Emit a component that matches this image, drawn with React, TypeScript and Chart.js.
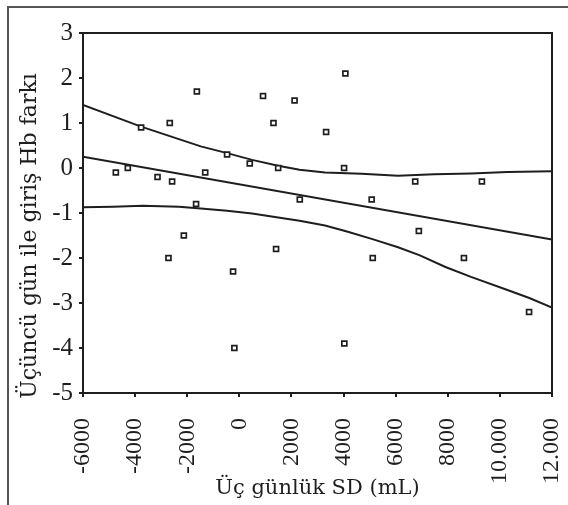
import React, { useEffect, useRef } from "react";
import { Chart, registerables } from "chart.js";

Chart.register(...registerables);

// Scatter points: three-day SD (mL) vs Hb difference
const sdX = [
  -4740, -4280, -3770, -3140, -2670, -2580, -2720, -2130, -1660, -1630, -1310,
  -470, -240, -190, 400, 910, 1310, 1410, 1490, 2120, 2320, 3330, 4070, 4020,
  4030, 5080, 5120, 6750, 6890, 8620, 9310, 11120,
];
const hbY = [
  -0.1, 0.0, 0.9, -0.2, 1.0, -0.3, -2.0, -1.5, -0.8, 1.7, -0.1,
  0.3, -2.3, -4.0, 0.1, 1.6, 1.0, -1.8, 0.0, 1.5, -0.7, 0.8, 2.1, 0.0,
  -3.9, -0.7, -2.0, -0.3, -1.4, -2.0, -0.3, -3.2,
];

// Fit line
const fitX = [-6000, 12000];
const fitY = [0.25, -1.59];

// Upper confidence band
const upperX = [-6000, -3770, -1480, -470, 490, 1490, 2310, 3290, 4690, 6090, 7490, 8890, 10290, 12000];
const upperY = [1.4, 0.92, 0.48, 0.33, 0.18, 0.05, -0.04, -0.1, -0.13, -0.17, -0.14, -0.12, -0.09, -0.07];

// Lower confidence band
const lowerX = [-6000, -4840, -3720, -2320, -1480, -470, 490, 1490, 2310, 3290, 4130, 5110, 6090, 6930, 7910, 8890, 10290, 11130, 12000];
const lowerY = [-0.87, -0.86, -0.84, -0.86, -0.9, -0.95, -1.01, -1.1, -1.17, -1.28, -1.41, -1.58, -1.76, -1.94, -2.2, -2.42, -2.71, -2.89, -3.1];

const xTickLabels = ["-6000", "-4000", "-2000", "0", "2000", "4000", "6000", "8000", "10.000", "12.000"];
const yTitle = "Üçüncü gün ile giriş Hb farkı";
const xTitle = "Üç günlük SD (mL)";

const INK = "#1e1e1e";
const TICK_FONT = "'Liberation Serif', serif";
const TITLE_FONT = "'DejaVu Serif', serif";

const zip = (xs: number[], ys: number[]) => xs.map((x, i) => ({ x, y: ys[i] }));

const decorPlugin = {
  id: "decor",
  beforeDraw(chart: any) {
    const { ctx } = chart;
    ctx.save();
    ctx.fillStyle = "#ffffff";
    ctx.fillRect(0, 0, chart.width, chart.height);
    ctx.strokeStyle = "#555555";
    ctx.lineWidth = 2;
    ctx.beginPath();
    ctx.moveTo(8, chart.height);
    ctx.lineTo(8, 7);
    ctx.lineTo(chart.width, 7);
    ctx.stroke();
    ctx.restore();
  },
  afterDraw(chart: any) {
    const { ctx, chartArea } = chart;
    ctx.save();
    ctx.strokeStyle = INK;
    ctx.lineWidth = 2;
    ctx.beginPath();
    ctx.moveTo(chartArea.left, chartArea.top);
    ctx.lineTo(chartArea.right, chartArea.top);
    ctx.lineTo(chartArea.right, chartArea.bottom);
    ctx.stroke();

    ctx.fillStyle = INK;
    ctx.font = `21px ${TITLE_FONT}`;
    ctx.textAlign = "center";
    ctx.textBaseline = "middle";
    ctx.fillText(xTitle, (chartArea.left + chartArea.right) / 2, 489);
    ctx.font = `22px ${TITLE_FONT}`;
    ctx.translate(30, 236);
    ctx.rotate(-Math.PI / 2);
    ctx.fillText(yTitle, 0, 0);
    ctx.restore();
  },
};

export default function App() {
  const ref = useRef<HTMLCanvasElement>(null);
  useEffect(() => {
    document.body.style.margin = "0";
    const canvas = ref.current!;
    const chart = new Chart(canvas, {
      type: "scatter",
      data: {
        datasets: [
          {
            data: zip(sdX, hbY),
            showLine: false,
            pointStyle: "rect",
            pointRadius: 3.5,
            pointBorderWidth: 1.7,
            pointBackgroundColor: "#ffffff",
            pointBorderColor: INK,
            order: 0,
          },
          {
            data: zip(fitX, fitY),
            showLine: true,
            pointRadius: 0,
            borderColor: INK,
            borderWidth: 2,
            order: 1,
          },
          {
            data: zip(upperX, upperY),
            showLine: true,
            pointRadius: 0,
            borderColor: INK,
            borderWidth: 2,
            order: 1,
          },
          {
            data: zip(lowerX, lowerY),
            showLine: true,
            pointRadius: 0,
            borderColor: INK,
            borderWidth: 2,
            order: 1,
          },
        ],
      },
      options: {
        animation: false,
        responsive: false,
        devicePixelRatio: 1,
        layout: { padding: { left: 0, top: 33, right: 16, bottom: 0 } },
        plugins: { legend: { display: false }, tooltip: { enabled: false } },
        scales: {
          x: {
            type: "linear",
            min: -6000,
            max: 12000,
            afterFit: (s: any) => {
              s.height = 112;
              s.paddingLeft = 0;
              s.paddingRight = 0;
            },
            ticks: {
              stepSize: 2000,
              autoSkip: false,
              maxRotation: 90,
              minRotation: 90,
              padding: 21,
              color: INK,
              font: { family: TICK_FONT, size: 24 },
              callback: (_v: any, i: number) => xTickLabels[i],
            },
            grid: { display: true, drawOnChartArea: false, tickLength: 4, color: INK, lineWidth: 2 },
            border: { display: true, color: INK, width: 2 },
          },
          y: {
            type: "linear",
            min: -5,
            max: 3,
            afterFit: (s: any) => {
              s.width = 83;
              s.paddingTop = 0;
              s.paddingBottom = 0;
            },
            ticks: {
              stepSize: 1,
              padding: 6,
              color: INK,
              font: { family: TICK_FONT, size: 25 },
            },
            grid: { display: true, drawOnChartArea: false, tickLength: 4, color: INK, lineWidth: 2 },
            border: { display: true, color: INK, width: 2 },
          },
        },
      },
      plugins: [decorPlugin],
    });
    return () => chart.destroy();
  }, []);
  return (
    <canvas
      ref={ref}
      width={568}
      height={505}
      style={{ position: "fixed", left: 0, top: 0, width: 568, height: 505 }}
    />
  );
}
